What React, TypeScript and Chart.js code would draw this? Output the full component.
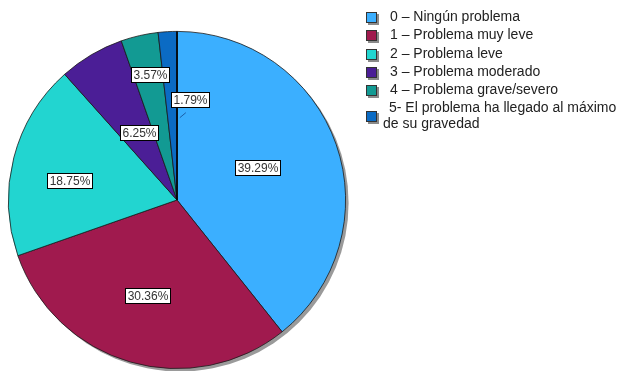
import React, { useEffect, useRef } from "react";
import { Chart, registerables } from "chart.js";

Chart.register(...registerables);

const categories = [
  "0 – Ningún problema",
  "1 – Problema muy leve",
  "2 – Problema leve",
  "3 – Problema moderado",
  "4 – Problema grave/severo",
  "5- El problema ha llegado al máximo\nde su gravedad",
];
const percentages = [39.29, 30.36, 18.75, 6.25, 3.57, 1.79];
const percentLabels = ["39.29%", "30.36%", "18.75%", "6.25%", "3.57%", "1.79%"];
const colors = ["#3BAFFF", "#A01A4E", "#22D5D0", "#4B1E96", "#129A93", "#0B6BC4"];

// label placement: [angle from top clockwise (deg), radius fraction]
const labelPlacement: [number, number][] = [
  [67.7, 0.515],
  [197.2, 0.59],
  [280.5, 0.65],
  [330.8, 0.46],
  [347.9, 0.76],
  [7.3, 0.6],
];

const FONT = "Arial, 'Liberation Sans', sans-serif";

const shadowPlugin = {
  id: "pieShadow",
  beforeDatasetsDraw(chart: any) {
    const arc = chart.getDatasetMeta(0).data[0];
    if (!arc) return;
    const { ctx } = chart;
    ctx.save();
    ctx.fillStyle = "#9a9a9a";
    ctx.beginPath();
    ctx.arc(arc.x + 3, arc.y + 3, arc.outerRadius, 0, Math.PI * 2);
    ctx.fill();
    ctx.restore();
  },
};

const labelsPlugin = {
  id: "pieLabels",
  afterDatasetsDraw(chart: any) {
    const { ctx } = chart;
    const meta = chart.getDatasetMeta(0);
    ctx.save();
    const a0 = meta.data[0];
    ctx.strokeStyle = "#000";
    ctx.lineWidth = 1.6;
    ctx.beginPath();
    ctx.moveTo(a0.x, a0.y);
    ctx.lineTo(a0.x, a0.y - a0.outerRadius);
    ctx.stroke();

    ctx.font = `12px ${FONT}`;
    ctx.textBaseline = "middle";
    ctx.textAlign = "center";
    meta.data.forEach((arc: any, i: number) => {
      const [deg, frac] = labelPlacement[i];
      const rad = (deg * Math.PI) / 180;
      const r = arc.outerRadius * frac;
      const x = arc.x + Math.sin(rad) * r;
      const y = arc.y - Math.cos(rad) * r;
      const text = percentLabels[i];
      if (i === 5) {
        ctx.strokeStyle = "#1b5fa8";
        ctx.lineWidth = 1;
        ctx.beginPath();
        ctx.moveTo(x - 10, y + 18);
        ctx.lineTo(x - 4, y + 13);
        ctx.stroke();
      }
      const w = Math.round(ctx.measureText(text).width) + 4;
      const h = 15;
      const bx = Math.round(x - w / 2) + 0.5;
      const by = Math.round(y - h / 2) + 0.5;
      ctx.fillStyle = "#fff";
      ctx.fillRect(bx, by, w, h);
      ctx.strokeStyle = "#000";
      ctx.lineWidth = 1;
      ctx.strokeRect(bx, by, w, h);
      ctx.fillStyle = "#333";
      ctx.fillText(text, bx + w / 2, by + h / 2 + 0.5);
    });
    ctx.restore();
  },
};

const legendPlugin = {
  id: "customLegend",
  afterDraw(chart: any) {
    const { ctx } = chart;
    const labels: string[] = chart.data.labels;
    const bg: string[] = chart.data.datasets[0].backgroundColor;
    ctx.save();
    ctx.font = `14px ${FONT}`;
    ctx.textBaseline = "middle";
    ctx.textAlign = "left";
    const rowY = [17, 35, 54, 72, 90, 108];
    labels.forEach((lab, i) => {
      const lines = lab.split("\n");
      const cy = lines.length > 1 ? rowY[i] + 8 : rowY[i];
      const bx = 366;
      const by = Math.round(cy - 5);
      ctx.fillStyle = "#8a8a8a";
      ctx.fillRect(bx + 2, by + 2, 11, 11);
      ctx.fillStyle = bg[i];
      ctx.fillRect(bx, by, 11, 11);
      ctx.strokeStyle = "#333";
      ctx.lineWidth = 1;
      ctx.strokeRect(bx + 0.5, by + 0.5, 10, 10);
      ctx.fillStyle = "#222";
      if (lines.length > 1) {
        ctx.fillText(lines[0], 389, rowY[i]);
        ctx.fillText(lines[1], 383, rowY[i] + 16);
      } else {
        ctx.fillText(lines[0], 390, rowY[i]);
      }
    });
    ctx.restore();
  },
};

export default function App() {
  const ref = useRef<HTMLCanvasElement>(null);
  useEffect(() => {
    document.body.style.margin = "0";
    const chart = new Chart(ref.current!, {
      type: "pie",
      data: {
        labels: categories,
        datasets: [
          {
            data: percentages,
            backgroundColor: colors,
            borderColor: "#1a1a1a",
            borderWidth: 0.8,
          },
        ],
      },
      options: {
        animation: false,
        responsive: false,
        layout: { padding: { left: 8, top: 31, right: 273, bottom: 2 } },
        plugins: {
          legend: { display: false },
          tooltip: { enabled: false },
        },
      },
      plugins: [shadowPlugin, labelsPlugin, legendPlugin],
    });
    return () => chart.destroy();
  }, []);
  return (
    <div style={{ width: 619, height: 371, background: "#fff" }}>
      <canvas ref={ref} width={619} height={371} />
    </div>
  );
}
